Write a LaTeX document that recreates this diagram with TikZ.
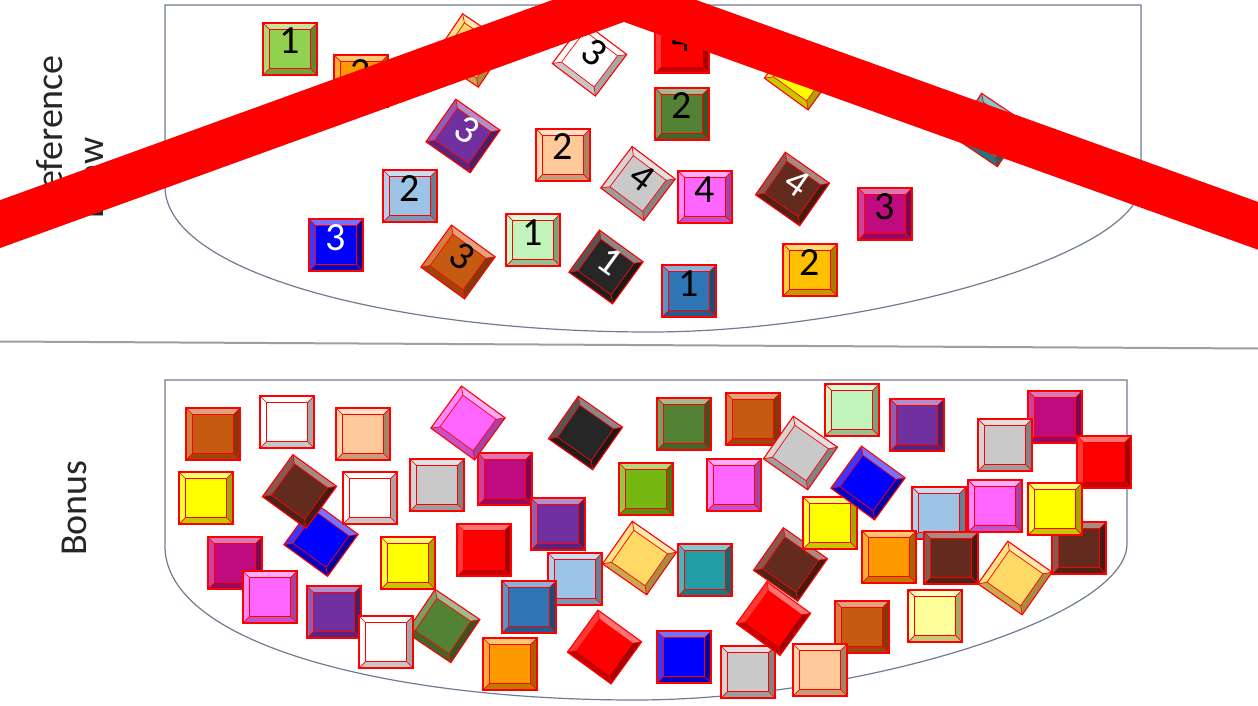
\documentclass[tikz,border=0pt]{standalone}
\usepackage{fontspec}
\setmainfont{Carlito}
\definecolor{cgreen}{HTML}{92D050}
\definecolor{corange}{HTML}{FF9900}
\definecolor{cltorange}{HTML}{FFD966}
\definecolor{cred}{HTML}{FF0000}
\definecolor{cyellow}{HTML}{FFFF00}
\definecolor{cdkgreen}{HTML}{548235}
\definecolor{cpurple}{HTML}{7030A0}
\definecolor{cpeach}{HTML}{FFC999}
\definecolor{cltblue}{HTML}{9DC3E6}
\definecolor{cgray}{HTML}{C9C9C9}
\definecolor{cpink}{HTML}{FF66FF}
\definecolor{cdkbrown}{HTML}{632B1D}
\definecolor{cmagenta}{HTML}{C00A80}
\definecolor{cblue}{HTML}{0000FF}
\definecolor{cbrorange}{HTML}{C55A11}
\definecolor{cltgreen}{HTML}{C1F5BB}
\definecolor{cblack}{HTML}{262626}
\definecolor{csteel}{HTML}{2E75B6}
\definecolor{camber}{HTML}{FFC000}
\definecolor{cteal}{HTML}{219DA5}
\definecolor{clime}{HTML}{76B711}
\definecolor{cltyellow}{HTML}{FFFF99}
\definecolor{poolc}{HTML}{6D7C91}
\tikzset{
  tileline/.style={draw=red, line width=1.1pt},
  tileinner/.style={draw=red, line width=0.7pt},
  digit/.style={font=\fontsize{40}{40}\selectfont, inner sep=0pt, anchor=base, transform shape},
  lbl/.style={font=\fontsize{38}{46}\selectfont, text=black!85, inner sep=0pt, rotate=90},
  pool/.style={draw=poolc, line width=1.2pt},
  sepline/.style={draw=gray!75, line width=2pt},
  band/.style={draw=red, line width=45pt, line join=miter},
}
\newcommand\tilebox[4]{%
\begin{scope}[shift={(#1,#2)}, rotate=#3]
 \fill[#4!55!white] (-27,-26) -- (27,-26) -- (20.5,-19.5) -- (-20.5,-19.5) -- cycle;
 \fill[#4!78!white] (-27,-26) -- (-20.5,-19.5) -- (-20.5,19.5) -- (-27,26) -- cycle;
 \fill[#4!65!black] (27,-26) -- (27,26) -- (20.5,19.5) -- (20.5,-19.5) -- cycle;
 \fill[#4!78!black] (-27,26) -- (27,26) -- (20.5,19.5) -- (-20.5,19.5) -- cycle;
 \fill[#4] (-20.5,-19.5) rectangle (20.5,19.5);
 \draw[tileinner] (-20.5,-19.5) rectangle (20.5,19.5)
   (-27,-26) -- (-20.5,-19.5) (27,-26) -- (20.5,-19.5)
   (27,26) -- (20.5,19.5) (-27,26) -- (-20.5,19.5);
 \draw[tileline] (-27,-26) rectangle (27,26);
\end{scope}}
\newcommand\numtile[7]{%
 \tilebox{#1}{#2}{#3}{#4}%
 \begin{scope}[shift={(#1,#2)}, rotate=#3]
  \node[digit, text=#7] (#5) at (0,5) {#6};
 \end{scope}}
\begin{document}
\begin{tikzpicture}[x=1pt,y=-1pt]
\useasboundingbox (0,0) rectangle (1258,706);
\clip (0,0) rectangle (1258,706);
\fill[white] (0,0) rectangle (1258,706);
% containers
\draw[pool] (165,188) -- (165,5) -- (1141,5) -- (1141,185)
  .. controls (1136,258) and (860,332) .. (650,332)
  .. controls (400,332) and (168,275) .. (165,188) -- cycle;
\draw[pool] (165,548) -- (165,380) -- (1127,380) -- (1127,545)
  .. controls (1124,620) and (850,700) .. (635,700)
  .. controls (390,700) and (168,645) .. (165,548) -- cycle;
\draw[sepline] (0,341.5) -- (1258,348.5);
% labels
\node[lbl, anchor=base east] (lref) at (62,55) {Reference};
\node[lbl, anchor=base east] (ldraw) at (103,137) {Draw};
\node[lbl, anchor=base] (lbonus) at (86,508) {Bonus};
% top tiles
\numtile{290}{49}{0}{cgreen}{n1}{1}{black}
\numtile{361}{81}{0}{corange}{n2}{2}{black}
\tilebox{470.5}{50.5}{-34}{cltorange}
\numtile{589.5}{59}{-37}{white}{n3}{3}{black}
\numtile{682}{47}{0}{cred}{n4}{4}{black}
\tilebox{801.5}{73}{-36}{cyellow}
\numtile{682}{114}{0}{cdkgreen}{n5}{2}{black}
\numtile{463}{136}{-35}{cpurple}{n6}{3}{white}
\numtile{563}{155}{0}{cpeach}{n7}{2}{black}
\numtile{410}{196}{0}{cltblue}{n8}{2}{black}
\numtile{638}{183.5}{-37}{cgray}{n9}{4}{black}
\numtile{705}{197}{0}{cpink}{n10}{4}{black}
\numtile{792.5}{189}{-35}{cdkbrown}{n11}{4}{white}
\numtile{885}{214}{0}{cmagenta}{n12}{3}{black}
\numtile{336}{245}{0}{cblue}{n13}{3}{white}
\numtile{458}{262}{-36}{cbrorange}{n14}{3}{black}
\numtile{533}{240}{0}{cltgreen}{n15}{1}{black}
\numtile{606}{267}{-36}{cblack}{n16}{1}{white}
\numtile{689}{291}{0}{csteel}{n17}{1}{black}
\numtile{810}{270}{0}{camber}{n18}{2}{black}
\tilebox{989.5}{130}{-34}{cteal}
% bottom tiles
\tilebox{213}{434}{0}{cbrorange}
\tilebox{287}{422}{0}{white}
\tilebox{363}{434}{0}{cpeach}
\tilebox{206}{498}{0}{cyellow}
\tilebox{321}{539.5}{-36}{cblue}
\tilebox{299.5}{491.5}{-36}{cdkbrown}
\tilebox{370}{498}{0}{white}
\tilebox{235}{563}{0}{cmagenta}
\tilebox{270}{597}{0}{cpink}
\tilebox{334}{612}{0}{cpurple}
\tilebox{443}{626}{-34}{cdkgreen}
\tilebox{386}{642}{0}{white}
\tilebox{408}{563}{0}{cyellow}
\tilebox{437}{485}{0}{cgray}
\tilebox{505}{479}{0}{cmagenta}
\tilebox{468}{423}{-36}{cpink}
\tilebox{558}{524}{0}{cpurple}
\tilebox{585.5}{433}{-35}{cblack}
\tilebox{646}{489}{0}{clime}
\tilebox{734}{485}{0}{cpink}
\tilebox{684}{424}{0}{cdkgreen}
\tilebox{753}{419}{0}{cbrorange}
\tilebox{852}{410}{0}{cltgreen}
\tilebox{800.5}{453}{-35}{cgray}
\tilebox{484}{550}{0}{cred}
\tilebox{575}{579}{0}{cltblue}
\tilebox{529}{607}{0}{csteel}
\tilebox{639.5}{558}{-35}{cltorange}
\tilebox{705}{570}{0}{cteal}
\tilebox{790.5}{564.5}{-35}{cdkbrown}
\tilebox{830}{523}{0}{cyellow}
\tilebox{868}{483}{-36}{cblue}
\tilebox{748}{672}{0}{cgray}
\tilebox{773.5}{618.5}{-36}{cred}
\tilebox{604.5}{647}{-36}{cred}
\tilebox{510}{664}{0}{corange}
\tilebox{684}{657}{0}{cblue}
\tilebox{862}{627}{0}{cbrorange}
\tilebox{820}{670}{0}{cpeach}
\tilebox{917}{425}{0}{cpurple}
\tilebox{1055}{417}{0}{cmagenta}
\tilebox{1005}{445}{0}{cgray}
\tilebox{1104}{462}{0}{cred}
\tilebox{939}{513}{0}{cltblue}
\tilebox{995}{506}{0}{cpink}
\tilebox{1079}{548}{0}{cdkbrown}
\tilebox{1055}{509}{0}{cyellow}
\tilebox{889}{557}{0}{corange}
\tilebox{951}{558}{0}{cdkbrown}
\tilebox{1015}{578}{-35}{cltorange}
\tilebox{935}{616}{0}{cltyellow}
% red band
\coordinate (bandL) at (-30,235);
\coordinate (bandT) at (624,-2);
\coordinate (bandR) at (1290,237.3);
\draw[band] (bandL) -- (bandT) -- (bandR);
\end{tikzpicture}
\end{document}
